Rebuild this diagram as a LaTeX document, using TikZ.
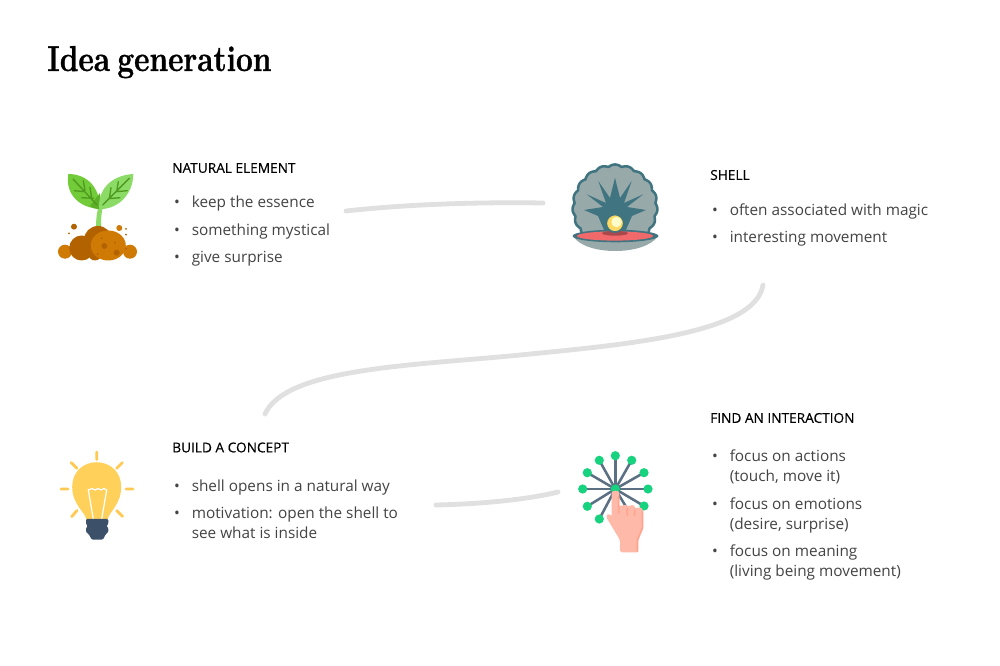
\documentclass[tikz,border=0pt]{standalone}
\usepackage{fontspec}
\newfontfamily\bodyfont{Open Sans}
\newfontfamily\headfont[FakeBold=0.3]{Open Sans}
\newfontfamily\titlefont[BoldFeatures={FakeStretch=0.83,FakeBold=0.9}]{Latin Modern Roman}
\definecolor{bodytext}{HTML}{444444}
\definecolor{linkgray}{HTML}{E0E0E0}
\definecolor{leafgreen}{HTML}{72CB38}
\definecolor{leaflight}{HTML}{8BDB66}
\definecolor{leafdark}{HTML}{4F9A1F}
\definecolor{soildark}{HTML}{B36200}
\definecolor{soillight}{HTML}{CF7A05}
\definecolor{shellteal}{HTML}{3F7480}
\definecolor{shellgray}{HTML}{98A9AA}
\definecolor{shellred}{HTML}{F2696B}
\definecolor{bulbyellow}{HTML}{FFD15B}
\definecolor{bulbbase}{HTML}{3C5169}
\definecolor{spokegray}{HTML}{5B7083}
\definecolor{dotgreen}{HTML}{17D27E}
\definecolor{handskin}{HTML}{FFB9A8}
\definecolor{handshade}{HTML}{FFA48F}
\tikzset{
  headnode/.style={anchor=west, inner sep=0pt, text=black, font=\headfont\fontsize{10.25}{12}\selectfont},
  itemnode/.style={anchor=north west, align=left, inner sep=0pt, text=bodytext, font=\bodyfont\fontsize{11.5}{15}\selectfont},
  linkline/.style={linkgray, line width=3.6pt, line cap=round},
  ray/.style={bulbyellow!90!orange, line width=2.1pt, line cap=round},
  spoke/.style={spokegray, line width=1.9pt},
  vein/.style={leafdark, line width=1pt, line cap=round}
}
\newcommand{\itembullet}{\strut\llap{\textbullet\hspace{9pt}}}
\begin{document}
\begin{tikzpicture}[x=0.75pt,y=-0.75pt]
\fill[white] (0,0) rectangle (1000,666);
\useasboundingbox (0,0) rectangle (1000,666);
\node[anchor=base west, inner sep=0pt, font=\titlefont\bfseries\fontsize{27}{30}\selectfont] (title) at (47,71) {Idea\hspace{-3pt} generation};
% plant
\fill[leaflight] (96,228) .. controls (96,218) and (97,212) .. (99,204) -- (104,204) .. controls (101,212) and (101,220) .. (101,228) -- cycle;
\fill[leafgreen] (68.3,174) .. controls (85,174) and (100,185) .. (100,209) .. controls (80,208) and (65,195) .. cycle;
\fill[leafdark!60!leafgreen] (100,193) .. controls (101,198) and (100,205) .. (100,209) .. controls (96,209) and (92,208) .. (90,206) -- cycle;
\fill[leaflight] (133.3,174) .. controls (116,175) and (98,185) .. (99,209) .. controls (115,210) and (133,197) .. cycle;
\draw[vein] (73,179) -- (97,205) (83.3,180.7) -- (85,190.7) (74.3,190.7) -- (85,191.7) (90,187.3) -- (91.7,198.3) (81.7,197.7) -- (93.3,198.3);
\draw[vein] (129.3,178.3) -- (102.7,205) (118.3,181.7) -- (116.7,191.7) (127.3,190.7) -- (116,191.7) (111,187.7) -- (109.3,198.7) (120,197.7) -- (108.3,198.7);
\fill[soillight] (65,251.7) circle (7);
\fill[soillight] (130,251.7) circle (7);
\fill[soildark] (81.7,248) circle (12.5);
\fill[soildark] (98,240) circle (14);
\fill[soildark] (95,254) circle (6.5);
\fill[soillight] (108.3,245.5) ellipse (17.5 and 15);
\fill[soildark] (74,226.7) circle (3) (69,233.3) circle (1) (104.3,246) circle (3) (116.7,252.7) circle (3) (101.7,238.3) circle (1) (115,242.7) circle (1) (97.7,254) circle (1) (126,248.7) circle (1) (126,229) circle (1) (126,234.7) circle (1);
\fill[soillight] (119.3,228) circle (3);
% shell
\draw[shellteal, fill=shellgray, line width=1.9pt] plot[domain=-45:225, samples=200] ({615+(40.5+2*abs(cos(9.6*(\x-90))))*cos(\x)}, {207-(40.5+2*abs(cos(9.6*(\x-90))))*sin(\x)}) -- cycle;
\fill[shellteal] (584,210) -- (603,207) -- (586.7,194.3) -- (606,203) -- (598.3,181) -- (610,198) -- (615,177.7) -- (620,198) -- (631.7,181) -- (624,203) -- (643.3,194.3) -- (627,207) -- (646,210) -- (632,216) -- (625,232) -- (605,232) -- (598,216) -- cycle;
\fill[shellgray] (573,236) .. controls (585,256) and (645,256) .. (658,236) -- cycle;
\fill[shellteal] (615.5,236) ellipse (43 and 6.3);
\fill[shellred] (615,236) ellipse (38 and 4.6);
\fill[shellred!70!black] (615,233.3) ellipse (13 and 2.4);
\draw[shellteal, fill=yellow!55!orange!60!white, line width=1.3pt] (615,223.3) circle (8.8);
\fill[yellow!20!white] (616.5,222) circle (5.2);
% bulb
\draw[ray] (96.7,452) -- (96.7,459.5) (71,462.5) -- (77,468.3) (122.5,462.5) -- (116.7,468.3) (61,489) -- (68,489) (126,489) -- (133,489) (71.7,516.7) -- (77,510.5) (122.7,516.5) -- (116.7,510.5);
\fill[bulbyellow] (86.5,520) .. controls (85.5,512) and (72.2,505) .. (72.2,486.7) .. controls (72.2,472) and (83,462.2) .. (96.7,462.2) .. controls (110,462.2) and (121.2,472) .. (121.2,486.7) .. controls (121.2,505) and (108.5,512) .. (107.5,520) -- cycle;
\draw[white, line width=0.9pt] (93.3,519) -- (88.3,490) -- (92,488.5) -- (95,490) -- (98,488.5) -- (101,490) -- (104,488.5) -- (106.7,490) -- (101.7,519);
\fill[bulbbase, rounded corners=0.8pt] (86,519) -- (108.3,519) -- (108.3,524) -- (106.5,526) -- (108.3,528) -- (108.3,532) -- (105.5,534.5) -- (103,539.5) -- (91.5,539.5) -- (89,534.5) -- (86,532) -- (86,528) -- (87.8,526) -- (86,524) -- cycle;
% touch points
\foreach \px/\py in {615.3/455.7, 631.7/460.3, 644/472.7, 648/489, 644/506, 599.3/519, 587.3/506.3, 582.7/489, 587.3/472.7, 599.3/460.3} {
  \draw[spoke] (615.3,489) -- (\px,\py);
  \fill[dotgreen] (\px,\py) circle (4.6);
}
\draw[spoke] (615.3,489) -- (631,515);
\fill[dotgreen] (615.3,489) circle (4.6);
\fill[handskin, rounded corners=1.2pt] (611.7,494.3) .. controls (612,490) and (619,490) .. (619.3,494.3) -- (619.3,506.7) -- (625,504.3) -- (628.3,506.7) -- (633.3,504.3) -- (635.7,509) -- (640,506.7) -- (643.3,510) -- (643.3,528.3) -- (638.3,540) -- (638.3,552.3) -- (620,552.3) -- (620,540) -- (606,516.7) -- (608.3,513.3) -- (611.7,516.7) -- cycle;
\draw[handshade, line width=1.2pt] (618.6,496) -- (618.6,514) (627.2,508) -- (627.2,516) (634.6,510) -- (634.6,516) (642.4,511) -- (642.4,528) -- (637.4,540) -- (637.4,552);
% connectors
\coordinate (l1a) at (346,211);
\coordinate (l1b) at (543,203);
\coordinate (l2a) at (763,285);
\coordinate (l2m) at (510,356);
\coordinate (l2b) at (265,414);
\coordinate (l3a) at (436,505);
\coordinate (l3b) at (558,492);
\draw[linkline] (l1a) .. controls (410,204) and (480,202) .. (l1b);
\draw[linkline] (l2a) .. controls (755,335) and (620,345) .. (l2m) .. controls (400,366) and (285,370) .. (l2b);
\draw[linkline] (l3a) .. controls (480,504) and (525,500) .. (l3b);
% texts
\node[headnode] (natural) at (172,168) {NATURAL ELEMENT};
\node[itemnode] (n1) at (191.5,193.3) {\itembullet keep the essence};
\node[itemnode] (n2) at (191.5,221) {\itembullet something mystical};
\node[itemnode] (n3) at (191.5,248) {\itembullet give surprise};
\node[headnode] (shell) at (710,175) {SHELL};
\node[itemnode] (s1) at (729.5,201) {\itembullet often associated with magic};
\node[itemnode] (s2) at (729.5,228) {\itembullet interesting movement};
\node[headnode] (concept) at (172,447.5) {BUILD A CONCEPT};
\node[itemnode] (c1) at (191.5,477) {\itembullet shell opens in a natural way};
\node[itemnode] (c2) at (191.5,504) {\itembullet motivation: open the shell to\\see what is inside};
\node[headnode] (interaction) at (710,418) {FIND AN INTERACTION};
\node[itemnode] (f1) at (729.5,447) {\itembullet focus on actions\\(touch, move it)};
\node[itemnode] (f2) at (729.5,495) {\itembullet focus on emotions\\(desire, surprise)};
\node[itemnode] (f3) at (729.5,542) {\itembullet focus on meaning\\(living being movement)};
\end{tikzpicture}
\end{document}
